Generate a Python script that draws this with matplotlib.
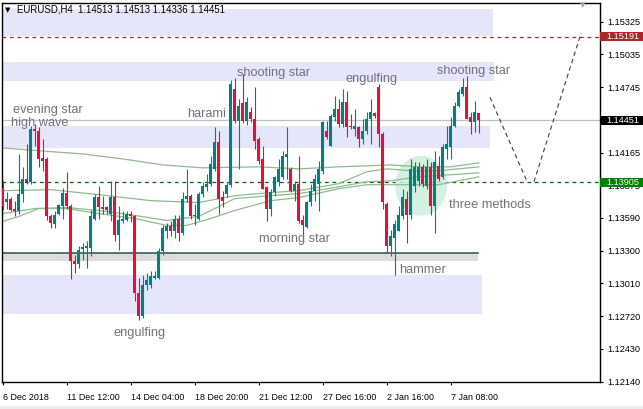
import matplotlib
matplotlib.use("Agg")
import matplotlib.pyplot as plt
import matplotlib.transforms as mtransforms
from matplotlib.patches import Rectangle, Ellipse

plt.rcParams['font.family'] = ['Liberation Sans', 'DejaVu Sans']

# ---------------- data ----------------
opens = [
    1.13857, 1.13734, 1.13760, 1.13664, 1.13646, 1.13804, 1.13936, 1.13909, 1.14375, 1.14357,
    1.14120, 1.14111, 1.13602, 1.13532, 1.13628, 1.13699, 1.13813, 1.13699, 1.13207, 1.13181,
    1.13312, 1.13321, 1.13321, 1.13584, 1.13778, 1.13672, 1.13690, 1.13628, 1.13778, 1.13435,
    1.13558, 1.13567, 1.13628, 1.13602, 1.12926, 1.12724, 1.12996, 1.12996, 1.13057, 1.13057,
    1.13295, 1.13470, 1.13514, 1.13470, 1.13584, 1.13453, 1.13760, 1.13786, 1.13602, 1.13584,
    1.13804, 1.13865, 1.13892, 1.14023, 1.14260, 1.13778, 1.13804, 1.13883, 1.14726, 1.14445,
    1.14603, 1.14445, 1.14524, 1.14462, 1.14287, 1.14111, 1.13865, 1.13672, 1.13821, 1.13909,
    1.13953, 1.14128, 1.14023, 1.13830, 1.13892, 1.13567, 1.13505, 1.13734, 1.13830, 1.13892,
    1.14006, 1.14357, 1.14225, 1.14480, 1.14550, 1.14419, 1.14612, 1.14401, 1.14375, 1.14392,
    1.14287, 1.14357, 1.14462, 1.14515, 1.14743, 1.14331, 1.13716, 1.13339, 1.13409, 1.13470,
    1.13602, 1.13760, 1.13611, 1.13874, 1.13918, 1.14041, 1.13874, 1.14041, 1.13699, 1.14050,
    1.13953, 1.14199, 1.14216, 1.14401, 1.14577, 1.14682, 1.14743, 1.14480, 1.14436, 1.14513,
]
highs = [
    1.13918, 1.13821, 1.13778, 1.13742, 1.14155, 1.14041, 1.14243, 1.14401, 1.14419, 1.14392,
    1.14287, 1.14128, 1.13628, 1.13646, 1.13716, 1.13857, 1.13997, 1.13716, 1.13260, 1.13339,
    1.13365, 1.13382, 1.13655, 1.13804, 1.13874, 1.13786, 1.13699, 1.13918, 1.13918, 1.13699,
    1.13646, 1.13646, 1.13646, 1.13619, 1.13057, 1.13084, 1.13101, 1.13119, 1.13119, 1.13321,
    1.13523, 1.13540, 1.13558, 1.13611, 1.13611, 1.13821, 1.14023, 1.13804, 1.13716, 1.13821,
    1.13909, 1.13979, 1.14137, 1.14392, 1.14357, 1.13830, 1.13909, 1.14805, 1.14831, 1.14638,
    1.14858, 1.14656, 1.14568, 1.14743, 1.14304, 1.14225, 1.13874, 1.13848, 1.13962, 1.14111,
    1.14181, 1.14392, 1.14041, 1.13918, 1.14137, 1.13611, 1.13742, 1.13892, 1.13979, 1.14094,
    1.14445, 1.14445, 1.14506, 1.14664, 1.14638, 1.14726, 1.14708, 1.14506, 1.14550, 1.14401,
    1.14462, 1.14524, 1.14638, 1.14524, 1.14770, 1.14348, 1.13734, 1.13479, 1.13567, 1.13699,
    1.13848, 1.13830, 1.14111, 1.14085, 1.14085, 1.14067, 1.14111, 1.14085, 1.14181, 1.14137,
    1.14243, 1.14401, 1.14480, 1.14612, 1.14726, 1.14831, 1.14840, 1.14524, 1.14620, 1.14513,
]
lows = [
    1.13655, 1.13672, 1.13646, 1.13602, 1.13628, 1.13734, 1.13892, 1.13892, 1.14225, 1.14041,
    1.14006, 1.13567, 1.13496, 1.13496, 1.13611, 1.13576, 1.13672, 1.13049, 1.13101, 1.13145,
    1.13216, 1.13145, 1.13251, 1.13567, 1.13584, 1.13628, 1.13628, 1.13558, 1.13382, 1.13304,
    1.13540, 1.13558, 1.13549, 1.12856, 1.12689, 1.12706, 1.12952, 1.12970, 1.13049, 1.13049,
    1.13260, 1.13409, 1.13426, 1.13409, 1.13382, 1.13435, 1.13734, 1.13584, 1.13523, 1.13567,
    1.13778, 1.13830, 1.13874, 1.14006, 1.13628, 1.13690, 1.13778, 1.13865, 1.14427, 1.14023,
    1.14427, 1.14410, 1.14436, 1.14199, 1.14067, 1.13848, 1.13558, 1.13602, 1.13786, 1.13874,
    1.13936, 1.13936, 1.13821, 1.13742, 1.13540, 1.13435, 1.13496, 1.13699, 1.13742, 1.13646,
    1.13979, 1.14287, 1.14225, 1.14445, 1.14392, 1.14392, 1.14304, 1.14375, 1.14313, 1.14216,
    1.14243, 1.14331, 1.14243, 1.14471, 1.14216, 1.13672, 1.13277, 1.13251, 1.13084, 1.13470,
    1.13584, 1.13365, 1.13584, 1.13821, 1.13874, 1.13865, 1.13848, 1.13611, 1.13453, 1.13918,
    1.13936, 1.14111, 1.14111, 1.14392, 1.14568, 1.14664, 1.14462, 1.14331, 1.14348, 1.14336,
]
closes = [
    1.13699, 1.13760, 1.13655, 1.13646, 1.13804, 1.13936, 1.13909, 1.14375, 1.14357, 1.14111,
    1.14094, 1.13602, 1.13540, 1.13619, 1.13707, 1.13813, 1.13699, 1.13207, 1.13181, 1.13304,
    1.13330, 1.13339, 1.13602, 1.13778, 1.13690, 1.13690, 1.13655, 1.13778, 1.13435, 1.13567,
    1.13576, 1.13628, 1.13602, 1.12926, 1.12724, 1.12996, 1.13040, 1.13075, 1.13075, 1.13295,
    1.13496, 1.13514, 1.13470, 1.13584, 1.13453, 1.13760, 1.13786, 1.13602, 1.13619, 1.13804,
    1.13874, 1.13892, 1.14067, 1.14260, 1.13760, 1.13742, 1.13883, 1.14778, 1.14445, 1.14577,
    1.14445, 1.14612, 1.14462, 1.14269, 1.14094, 1.13848, 1.13672, 1.13821, 1.13953, 1.14023,
    1.14137, 1.14155, 1.13830, 1.13892, 1.13558, 1.13523, 1.13734, 1.13830, 1.13936, 1.14023,
    1.14436, 1.14304, 1.14489, 1.14550, 1.14419, 1.14612, 1.14392, 1.14392, 1.14401, 1.14287,
    1.14357, 1.14462, 1.14524, 1.14489, 1.14331, 1.13734, 1.13339, 1.13426, 1.13532, 1.13611,
    1.13778, 1.13611, 1.14023, 1.14041, 1.14041, 1.13892, 1.14041, 1.13699, 1.14085, 1.13936,
    1.14216, 1.14243, 1.14401, 1.14577, 1.14699, 1.14743, 1.14462, 1.14436, 1.14524, 1.14451,
]

# moving-average lines (sampled)
ma1_bars = [0, 10, 20, 30, 40, 50, 64, 74, 84, 91, 97, 104, 112, 119]
ma1_vals = [1.14208, 1.14181, 1.14155, 1.14111, 1.14058, 1.14032, 1.14041, 1.14023, 1.14041,
            1.14050, 1.14058, 1.14041, 1.14041, 1.14076]
ma2_bars = [0, 12, 24, 37, 49, 58, 67, 74, 84, 91, 96, 102, 109, 119]
ma2_vals = [1.13830, 1.13839, 1.13795, 1.13742, 1.13725, 1.13786, 1.13813, 1.13830, 1.13892,
            1.13997, 1.14023, 1.14006, 1.14006, 1.14041]
ma3_bars = [0, 8, 16, 24, 33, 41, 49, 58, 67, 74, 84, 91, 97, 104, 112, 119]
ma3_vals = [1.13628, 1.13672, 1.13681, 1.13655, 1.13611, 1.13567, 1.13602, 1.13760, 1.13786,
            1.13804, 1.13865, 1.13909, 1.13918, 1.13953, 1.13971, 1.13988]
ma4_bars = [0, 4, 9, 16, 24, 33, 41, 46, 52, 58, 67, 74, 84, 91, 99, 109, 114, 119]
ma4_vals = [1.13558, 1.13602, 1.13672, 1.13672, 1.13628, 1.13584, 1.13523, 1.13523, 1.13584,
            1.13655, 1.13742, 1.13769, 1.13848, 1.13883, 1.13883, 1.13883, 1.13918, 1.13953]

date_label_bars = [0, 16, 32, 48, 64, 80, 96, 112]
date_labels = ['6 Dec 2018', '11 Dec 12:00', '14 Dec 04:00', '18 Dec 20:00',
               '21 Dec 12:00', '27 Dec 16:00', '2 Jan 16:00', '7 Jan 08:00']
price_ticks = [1.15325, 1.15035, 1.14745, 1.14455, 1.14165, 1.13875, 1.13590,
               1.13300, 1.13010, 1.12720, 1.12430, 1.12140]
# 1.14455 is fully covered by the current-price box in the reference
price_tick_labels = ['1.15325', '1.15035', '1.14745', '', '1.14165', '1.13875',
                     '1.13590', '1.13300', '1.13010', '1.12720', '1.12430', '1.12140']

zone_tops = [1.15433, 1.14972, 1.14401, 1.13084]
zone_bottoms = [1.15200, 1.14796, 1.14208, 1.12741]
zone_ends = [122.5, 122.8, 121.8, 119.8]
support_top = 1.13277
support_bottom = 1.13207
support_end = 118.8

resistance_level = 1.15191
bid_level = 1.14451
target_level = 1.13905

proj1_bars = [121.8, 131.1]
proj1_vals = [1.14656, 1.13909]
proj2_bars = [132.8, 144.6]
proj2_vals = [1.13909, 1.15226]

pattern_names = ['evening star', 'high wave', 'harami', 'shooting star', 'engulfing',
                 'shooting star', 'three methods', 'morning star', 'hammer', 'engulfing']
pattern_bars = [2.6, 2.1, 46.1, 58.6, 85.6, 108.6, 111.6, 64.1, 99.1, 27.6]
pattern_prices = [1.14568, 1.14454, 1.14533, 1.14893, 1.14840, 1.14910, 1.13725,
                  1.13426, 1.13154, 1.12592]

ellipse_bar = 104.6
ellipse_price = 1.13874

title = 'EURUSD,H4  1.14513 1.14513 1.14336 1.14451'

# ---------------- drawing ----------------
W, H = 643, 409
fig = plt.figure(figsize=(W / 100, H / 100), dpi=100)
fig.patch.set_facecolor('white')
ax = fig.add_axes([2 / W, 1 - 382 / H, 598 / W, 379 / H])
ax.set_facecolor('white')
XMIN, XMAX = -0.175, 149.3
YMIN, YMAX = 1.12138, 1.15490
ax.set_xlim(XMIN, XMAX)
ax.set_ylim(YMIN, YMAX)
px_y = (YMAX - YMIN) / 379.0

lav = '#e6e6fa'
for top, bot, end in zip(zone_tops, zone_bottoms, zone_ends):
    ax.add_patch(Rectangle((XMIN, bot), end - XMIN, top - bot, facecolor=lav,
                           edgecolor='none', zorder=0.5))
ax.add_patch(Rectangle((XMIN, support_bottom), support_end - XMIN, support_top - support_bottom,
                       facecolor='#dcdcdc', edgecolor='none', zorder=0.6))
ax.plot([XMIN, support_end], [support_top, support_top], color='#2f4f4f', lw=1.1, zorder=0.7)

ax.axhline(resistance_level, color='#b22222', lw=0.9, dashes=(3, 3), zorder=0.8)
ax.axhline(target_level, color='#006400', lw=0.9, dashes=(3, 3), zorder=0.8)
ax.axhline(bid_level, color='#c0c0c0', lw=0.9, zorder=0.8)

ax.add_patch(Ellipse((ellipse_bar, ellipse_price), 13.0, 60 * px_y, facecolor='#cdeedb',
                     edgecolor='none', alpha=0.85, zorder=0.9))

for bx, vy in [(ma1_bars, ma1_vals), (ma2_bars, ma2_vals), (ma3_bars, ma3_vals),
               (ma4_bars, ma4_vals)]:
    ax.plot(bx, vy, color='#8fbc8f', lw=0.9, zorder=1)

bull, bear = '#008080', '#dc143c'
for i, (o, h, l, c) in enumerate(zip(opens, highs, lows, closes)):
    col = bull if c >= o else bear
    ax.plot([i, i], [l, h], color=col, lw=0.8, zorder=3, solid_capstyle='butt')
    lo, hi = min(o, c), max(o, c)
    if hi - lo < px_y:
        hi = lo + px_y
    ax.add_patch(Rectangle((i - 0.375, lo), 0.75, hi - lo, facecolor=col, edgecolor='none',
                           zorder=3.1))

ax.plot(proj1_bars, proj1_vals, color='#404040', lw=0.8, dashes=(4, 3), zorder=2)
ax.plot(proj2_bars, proj2_vals, color='#404040', lw=0.8, dashes=(4, 3), zorder=2)

text_tr = mtransforms.offset_copy(ax.transData, fig=fig, x=0, y=-2.5, units='dots')
for name, bx, py in zip(pattern_names, pattern_bars, pattern_prices):
    ax.text(bx, py, name, fontsize=9.2, color='#707080', ha='left', va='center', zorder=4,
            transform=text_tr)

# axes styling
for s in ax.spines.values():
    s.set_color('black')
    s.set_linewidth(1.0)
ax.yaxis.tick_right()
ax.set_yticks(price_ticks)
ax.set_yticklabels(price_tick_labels)
ax.set_xticks(date_label_bars)
ax.set_xticklabels(date_labels, ha='left')
ax.tick_params(axis='y', length=2.5, width=0.8, pad=3, labelsize=6.6, colors='black')
ax.tick_params(axis='x', length=2.5, width=0.8, pad=5.5, labelsize=6.4, colors='black')

# right price boxes
trans = mtransforms.blended_transform_factory(ax.transAxes, ax.transData)
box_w = 43 / 598
for lvl, txt, fc, tc in [(resistance_level, '1.15191', '#a8282a', 'white'),
                         (bid_level, '1.14451', 'black', 'white'),
                         (target_level, '1.13905', '#008000', '#e8ffe8')]:
    ax.add_patch(Rectangle((1.0, lvl - 4.6 * px_y), box_w, 9.2 * px_y, transform=trans,
                           facecolor=fc, edgecolor='none', clip_on=False, zorder=6))
    ax.text(1.0 + 6 / 598, lvl, txt, transform=trans, fontsize=6.6, color=tc, ha='left',
            va='center', clip_on=False, zorder=7)

# title and markers
fig.text(17 / W, 1 - 10 / H, title, fontsize=6.9, color='black', ha='left', va='center')
fig.text(8 / W, 1 - 10 / H, '\u25bc', fontsize=5, color='black', ha='center', va='center',
         family=['DejaVu Sans'])
fig.text(583 / W, 1 - 5 / H, '\u25bc', fontsize=5, color='#a0a0a0', ha='center', va='center',
         family=['DejaVu Sans'])
fig.add_artist(Rectangle((0, 0), 1, 3 / H, transform=fig.transFigure, facecolor='#ececec',
                         edgecolor='none'))

fig.savefig('out.png', dpi=100)
